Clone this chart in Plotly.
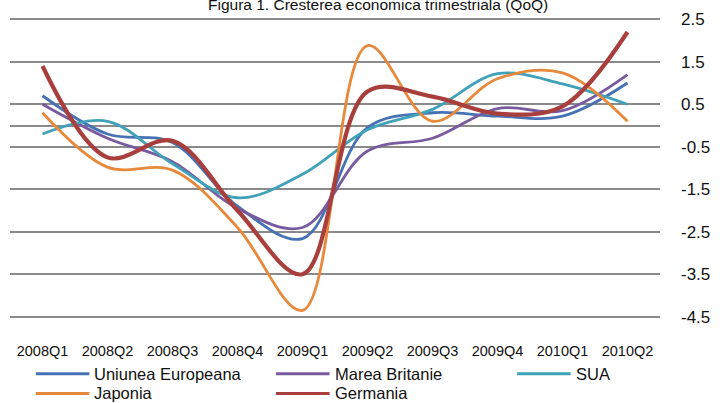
import plotly.graph_objects as go

categories = ["2008Q1", "2008Q2", "2008Q3", "2008Q4", "2009Q1",
              "2009Q2", "2009Q3", "2009Q4", "2010Q1", "2010Q2"]

uniunea_europeana = [0.7, -0.2, -0.4, -1.9, -2.66, -0.05, 0.3, 0.22, 0.22, 1.0]
marea_britanie = [0.5, -0.3, -0.85, -1.95, -2.4, -0.6, -0.3, 0.4, 0.35, 1.2]
sua = [-0.2, 0.1, -0.9, -1.7, -1.15, -0.1, 0.38, 1.22, 0.98, 0.5]
japonia = [0.3, -0.98, -1.05, -2.4, -4.35, 1.88, 0.1, 1.1, 1.24, 0.1]
germania = [1.4, -0.75, -0.36, -2.0, -3.5, 0.8, 0.68, 0.28, 0.45, 2.2]

series_names = ["Uniunea Europeana", "Marea Britanie", "SUA", "Japonia", "Germania"]
series_values = [uniunea_europeana, marea_britanie, sua, japonia, germania]
series_colors = ["#4672B4", "#785B9E", "#40A2B8", "#E8883A", "#A93F3C"]
series_widths = [2.8, 2.8, 2.8, 2.8, 4.2]

y_ticks = [2.5, 1.5, 0.5, -0.5, -1.5, -2.5, -3.5, -4.5]
title_text = "Figura 1. Cresterea economica trimestriala (QoQ)"

W, H = 720, 403
ml, mr, mt, mb = 10, 55, 16, 85
pw, ph = W - ml - mr, H - mt - mb

def px_x(p):
    return (p - ml) / pw

def px_y(p):
    return (H - mb - p) / ph

fig = go.Figure()
for name, vals, color, width in zip(series_names, series_values, series_colors, series_widths):
    fig.add_trace(go.Scatter(
        x=categories, y=vals, mode="lines", name=name, showlegend=False,
        line=dict(shape="spline", smoothing=1.0, color=color, width=width),
        hoverinfo="x+y+name",
    ))

# legend drawn as two rows of three columns
col_x = [36, 278, 521]
row_y = [374, 394]
for i, (name, color) in enumerate(zip(series_names, series_colors)):
    c, r = i % 3, i // 3
    x0 = col_x[c]
    y0 = row_y[r]
    fig.add_shape(type="line", xref="paper", yref="paper",
                  x0=px_x(x0), x1=px_x(x0 + 54), y0=px_y(y0), y1=px_y(y0),
                  line=dict(color=color, width=3))
    fig.add_annotation(xref="paper", yref="paper", x=px_x(x0 + 57), y=px_y(y0),
                       xanchor="left", yanchor="middle", showarrow=False,
                       text=name, font=dict(size=16.5, color="#111111"))

fig.add_annotation(xref="paper", yref="paper", x=px_x(381), y=px_y(13),
                   xanchor="center", yanchor="bottom", showarrow=False,
                   text=title_text, font=dict(size=15.5, color="#111111"))

fig.update_layout(
    width=W, height=H,
    margin=dict(l=ml, r=mr, t=mt, b=mb),
    paper_bgcolor="white", plot_bgcolor="white",
    font=dict(family="Liberation Sans, Arial, sans-serif", color="#111111"),
    showlegend=False,
    xaxis=dict(type="category", range=[-0.5, 9.5], showgrid=False, zeroline=False,
               showline=False, ticks="", ticklabelstandoff=22,
               tickfont=dict(size=14.5, color="#111111")),
    yaxis=dict(side="right", range=[-4.53, 2.53], tickvals=y_ticks,
               ticktext=[f"{v:.1f}" for v in y_ticks],
               showgrid=True, gridcolor="#8A8A8A", gridwidth=1.6,
               zeroline=True, zerolinecolor="#8A8A8A", zerolinewidth=1.6,
               showline=False, ticks="", ticklabelstandoff=20,
               tickfont=dict(size=17, color="#111111")),
)

fig.write_html("out.html", config={"displayModeBar": False},
               post_script="document.body.style.margin='0px';")
